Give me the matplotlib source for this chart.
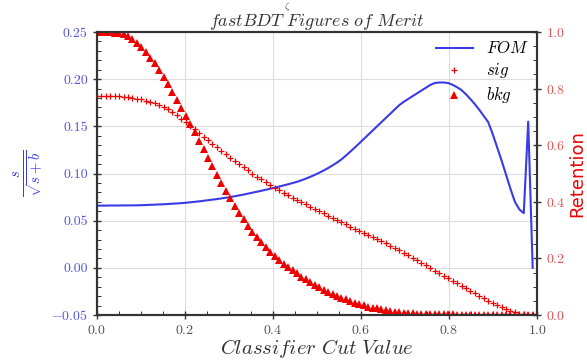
import numpy as np
import matplotlib
matplotlib.use('Agg')
import matplotlib.pyplot as plt

plt.rcParams['font.family'] = 'serif'
plt.rcParams['font.serif'] = ['cmr10']
plt.rcParams['mathtext.fontset'] = 'cm'
plt.rcParams['axes.formatter.use_mathtext'] = True

# Classifier cut values (100 evenly spaced cuts)
cuts = np.linspace(0, 1, 100)

# Signal retention
sig = [0.775, 0.775, 0.775, 0.774, 0.774, 0.773, 0.772, 0.770, 0.768, 0.765,
       0.762, 0.758, 0.754, 0.749, 0.743, 0.735, 0.727, 0.717, 0.706, 0.694,
       0.682, 0.669, 0.656, 0.643, 0.630, 0.617, 0.604, 0.592, 0.580, 0.568,
       0.556, 0.545, 0.533, 0.522, 0.511, 0.500, 0.489, 0.479, 0.469, 0.459,
       0.450, 0.441, 0.432, 0.424, 0.415, 0.407, 0.399, 0.391, 0.383, 0.375,
       0.367, 0.359, 0.351, 0.343, 0.335, 0.327, 0.320, 0.312, 0.305, 0.298,
       0.290, 0.283, 0.276, 0.268, 0.261, 0.253, 0.245, 0.237, 0.228, 0.220,
       0.211, 0.202, 0.193, 0.184, 0.175, 0.166, 0.157, 0.148, 0.139, 0.130,
       0.121, 0.112, 0.103, 0.095, 0.086, 0.077, 0.068, 0.060, 0.051, 0.043,
       0.035, 0.027, 0.020, 0.014, 0.009, 0.005, 0.003, 0.001, 0.000, 0.000]

# Background retention
bkg = [1.000, 1.000, 1.000, 0.999, 0.998, 0.996, 0.992, 0.985, 0.975, 0.962,
       0.947, 0.929, 0.910, 0.889, 0.866, 0.842, 0.816, 0.789, 0.761, 0.733,
       0.705, 0.675, 0.645, 0.615, 0.585, 0.555, 0.525, 0.496, 0.467, 0.439,
       0.412, 0.386, 0.361, 0.338, 0.316, 0.295, 0.275, 0.257, 0.240, 0.224,
       0.209, 0.195, 0.182, 0.170, 0.158, 0.147, 0.136, 0.126, 0.116, 0.107,
       0.098, 0.090, 0.082, 0.075, 0.068, 0.061, 0.055, 0.049, 0.044, 0.039,
       0.034, 0.030, 0.026, 0.023, 0.020, 0.017, 0.014, 0.012, 0.010, 0.008,
       0.007, 0.006, 0.005, 0.004, 0.004, 0.003, 0.003, 0.002, 0.002, 0.002,
       0.002, 0.001, 0.001, 0.001, 0.001, 0.001, 0.001, 0.001, 0.001, 0.001,
       0.001, 0.001, 0.000, 0.000, 0.000, 0.000, 0.000, 0.000, 0.000, 0.000]

# Figure of merit s/sqrt(s+b)
fom = [0.0660, 0.0660, 0.0660, 0.0661, 0.0661, 0.0661, 0.0662, 0.0662, 0.0662, 0.0663,
       0.0664, 0.0666, 0.0668, 0.0670, 0.0672, 0.0674, 0.0677, 0.0680, 0.0683, 0.0686,
       0.0690, 0.0695, 0.0700, 0.0705, 0.0711, 0.0717, 0.0723, 0.0729, 0.0736, 0.0743,
       0.0750, 0.0759, 0.0768, 0.0777, 0.0787, 0.0797, 0.0807, 0.0817, 0.0828, 0.0839,
       0.0850, 0.0862, 0.0874, 0.0886, 0.0899, 0.0912, 0.0928, 0.0946, 0.0965, 0.0986,
       0.1008, 0.1032, 0.1058, 0.1086, 0.1116, 0.1150, 0.1190, 0.1232, 0.1275, 0.1320,
       0.1365, 0.1410, 0.1455, 0.1500, 0.1545, 0.1590, 0.1635, 0.1680, 0.1725, 0.1760,
       0.1790, 0.1820, 0.1850, 0.1880, 0.1910, 0.1940, 0.1960, 0.1965, 0.1965, 0.1960,
       0.1940, 0.1915, 0.1885, 0.1840, 0.1790, 0.1735, 0.1675, 0.1610, 0.1545, 0.1420,
       0.1280, 0.1140, 0.0990, 0.0840, 0.0700, 0.0620, 0.0580, 0.1550, 0.0000, np.nan]

blue = '#3a3ae6'
red = '#ee0000'

fig = plt.figure(figsize=(5.87, 3.6), dpi=100)
ax1 = fig.add_axes([0.165, 0.125, 0.75, 0.786])
ax2 = ax1.twinx()

l1, = ax1.plot(cuts, fom, color=blue, lw=1.5, label='$FOM$')
l2, = ax2.plot(cuts, sig, ls='none', marker='+', ms=4, mew=0.9, color=red, label='$sig$')
l3, = ax2.plot(cuts, bkg, ls='none', marker='^', ms=5.5, mew=0, color=red, label='$bkg$')

ax1.set_xlim(0, 1)
ax1.set_ylim(-0.05, 0.25)
ax2.set_ylim(0, 1)
ax1.set_yticks([-0.05, 0.0, 0.05, 0.10, 0.15, 0.20, 0.25])
ax1.set_yticklabels(['$-0.05$', '0.00', '0.05', '0.10', '0.15', '0.20', '0.25'])
ax2.set_yticks([0.0, 0.2, 0.4, 0.6, 0.8, 1.0])

ax1.grid(True, color='#dddddd', lw=0.8)
ax1.set_axisbelow(True)
ax1.minorticks_on()
ax2.minorticks_on()

for ax in (ax1, ax2):
    for s in ax.spines.values():
        s.set_color('#333333')
        s.set_linewidth(1.5)
    ax.tick_params(which='major', direction='inout', length=6, width=1, color='#333333')
    ax.tick_params(which='minor', direction='in', length=3, width=0.7, color='#333333')

ax1.tick_params(axis='x', labelsize=10, labelcolor='#555555')
ax1.tick_params(axis='y', labelsize=10, labelcolor='#5555dd')
ax2.tick_params(axis='y', labelsize=10, labelcolor='#e05555')

ax1.set_xlabel('$Classifier\\ Cut\\ Value$', fontsize=15, color='#333333', labelpad=0)
ax1.set_ylabel('$\\frac{s}{\\sqrt{s+b}}$', fontsize=15, color=blue)
ax2.set_ylabel('Retention', fontsize=13, color=red, family='DejaVu Sans', labelpad=2)
ax1.set_title('$fastBDT\\ Figures\\ of\\ Merit$', fontsize=13, color='#333333', pad=-1)
fig.text(0.49, 1.0, '$\\zeta$', fontsize=7, color='#444444', ha='center', va='top')

ax2.legend(handles=[l1, l2, l3], loc='upper right', frameon=False, fontsize=12,
           handlelength=2.2, borderaxespad=0.1, labelspacing=0.3)

fig.savefig('out.png', dpi=100)
